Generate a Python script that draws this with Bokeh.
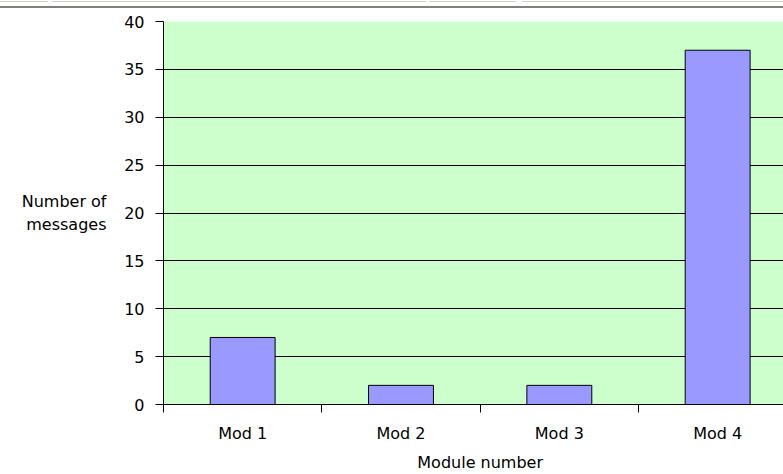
from bokeh.plotting import figure
from bokeh.models import FixedTicker, Range1d, LinearAxis, Div
from bokeh.layouts import column
from bokeh.embed import file_html
from bokeh.resources import INLINE

# Data
categories = ["Mod 1", "Mod 2", "Mod 3", "Mod 4"]
messages = [7, 2, 2, 37]
y_ticks = [0, 5, 10, 15, 20, 25, 30, 35, 40]
x_title = "Module number"
y_title = "Number of\nmessages"

FONT = "DejaVu Sans"
centers = [i + 1 for i in range(len(categories))]
bounds = [i + 0.5 for i in range(len(categories) + 1)]
band_px = 158.33

p = figure(width=783, height=466, output_backend="svg", toolbar_location=None,
           x_range=Range1d(0.5, 0.5 + 620 / band_px), y_range=Range1d(0, 40),
           min_border_left=163, min_border_right=0, min_border_top=13,
           min_border_bottom=70)
p.background_fill_color = "#CCFFCC"
p.border_fill_color = "white"
p.outline_line_color = None

p.vbar(x=centers, top=messages, width=0.41, fill_color="#9999FF",
       line_color="black", line_width=1)

# grid
p.xgrid.grid_line_color = None
p.ygrid.grid_line_color = "black"
p.ygrid.grid_line_width = 1
p.ygrid.ticker = FixedTicker(ticks=y_ticks)

# y axis
ya = p.yaxis[0]
ya.ticker = FixedTicker(ticks=y_ticks)
ya.major_tick_out = 8
ya.major_tick_in = 0
ya.minor_tick_line_color = None
ya.minor_tick_out = 0
ya.axis_line_color = "black"
ya.major_tick_line_color = "black"
ya.major_label_standoff = 11
ya.major_label_text_font = FONT
ya.major_label_text_font_size = "16px"
ya.major_label_text_color = "black"

# x axis
xa = p.xaxis[0]
xa.ticker = FixedTicker(ticks=centers, minor_ticks=bounds)
xa.major_label_overrides = {c: lab for c, lab in zip(centers, categories)}
xa.major_tick_line_color = None
xa.major_tick_out = 0
xa.major_tick_in = 0
xa.minor_tick_line_color = "black"
xa.minor_tick_out = 8
xa.minor_tick_in = 0
xa.axis_line_color = "black"
xa.major_label_standoff = 11
xa.major_label_text_font = FONT
xa.major_label_text_font_size = "16px"
xa.major_label_text_color = "black"

# y title: horizontal, via an outer axis with a single labelled tick
yt = LinearAxis(ticker=FixedTicker(ticks=[20]), major_label_overrides={20: y_title},
                axis_line_color=None, major_tick_line_color=None,
                minor_tick_line_color=None, major_tick_out=0, minor_tick_out=0,
                major_label_standoff=15,
                major_label_text_font=FONT, major_label_text_font_size="16px",
                major_label_text_color="black")
p.add_layout(yt, "left")

# x title via an outer axis with a single labelled tick
xt = LinearAxis(ticker=FixedTicker(ticks=[2.5]), major_label_overrides={2.5: x_title},
                axis_line_color=None, major_tick_line_color=None,
                minor_tick_line_color=None, major_tick_out=0, minor_tick_out=0,
                major_label_standoff=7,
                major_label_text_font=FONT, major_label_text_font_size="16px",
                major_label_text_color="black")
p.add_layout(xt, "below")

# spreadsheet strip above the chart
gap = ("linear-gradient(to right, #d4d0c8 0px, #d4d0c8 48px, white 48px, white 52px, "
       "#d4d0c8 52px, #d4d0c8 426px, white 426px, white 429px, #d4d0c8 429px, "
       "#d4d0c8 516px, white 516px, white 522px, #d4d0c8 522px)")
s1 = Div(width=783, height=1, margin=0, styles={"background-color": "white"})
s2 = Div(width=783, height=1, margin=0, styles={"background": gap})
s3 = Div(width=783, height=4, margin=0, styles={"background-color": "white"})
s4 = Div(width=783, height=2, margin=0, styles={"background-color": "#808080"})

layout = column(s1, s2, s3, s4, p, spacing=0)
open("out.html", "w").write(file_html(layout, INLINE))
